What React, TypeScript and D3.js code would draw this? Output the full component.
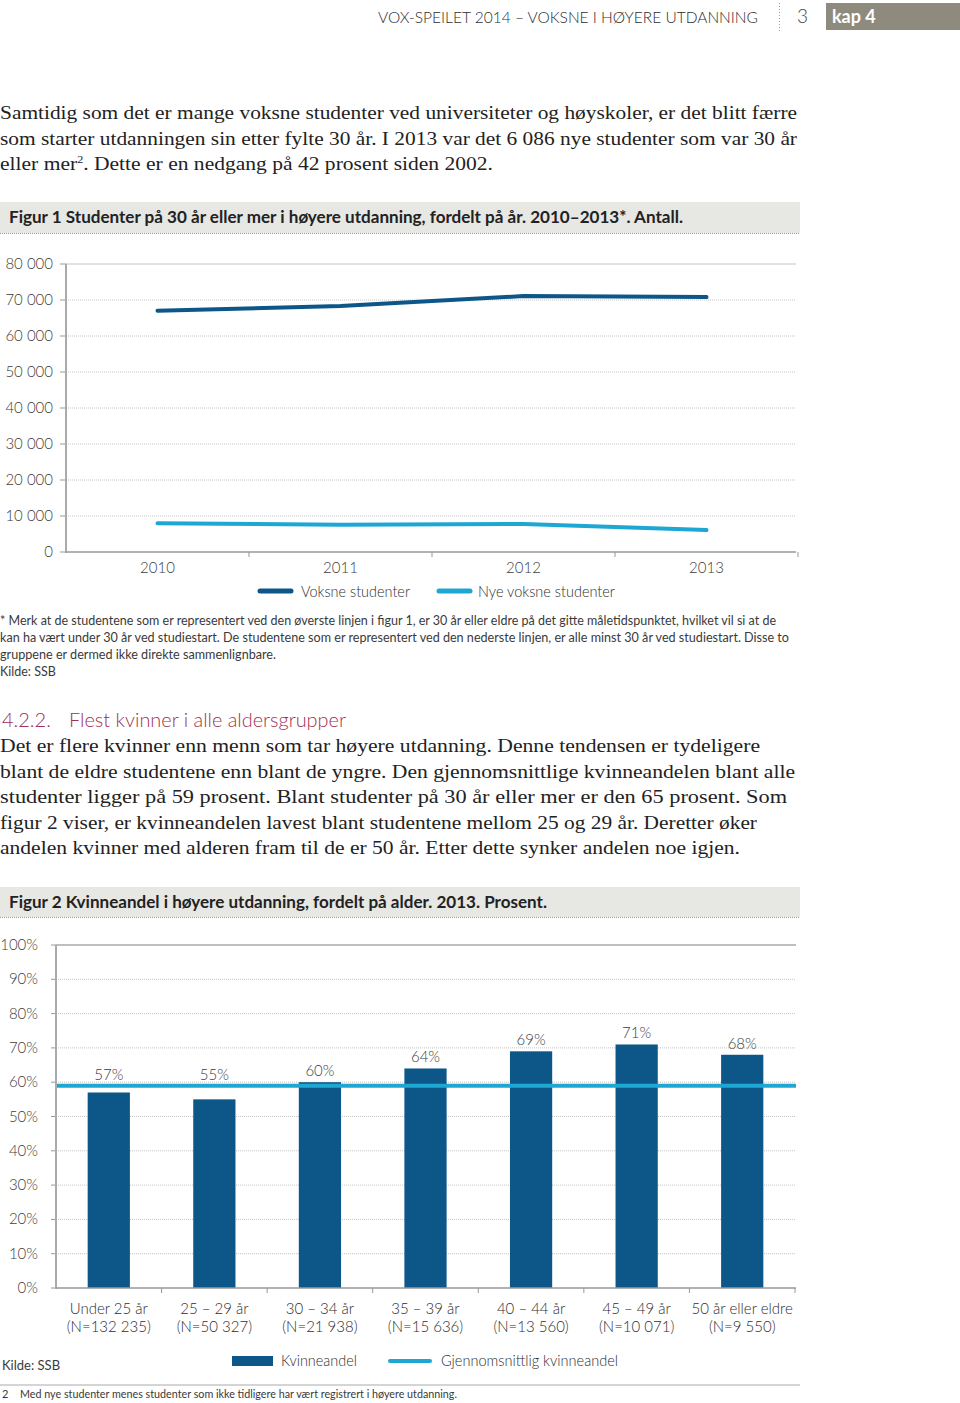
import React from "react";
import * as d3 from "d3";

const years = ["2010", "2011", "2012", "2013"];
const voksne = [67000, 68300, 71100, 70800];
const nyeVoksne = [8000, 7600, 7800, 6086];
const fig1Ticks = [0, 10000, 20000, 30000, 40000, 50000, 60000, 70000, 80000];

const ageGroups = ["Under 25 år", "25 – 29 år", "30 – 34 år", "35 – 39 år", "40 – 44 år", "45 – 49 år", "50 år eller eldre"];
const ageN = ["(N=132 235)", "(N=50 327)", "(N=21 938)", "(N=15 636)", "(N=13 560)", "(N=10 071)", "(N=9 550)"];
const kvinneandel = [0.57, 0.55, 0.6, 0.64, 0.69, 0.71, 0.68];
const avgKvinneandel = 0.59;
const fig2Ticks = [0, 0.1, 0.2, 0.3, 0.4, 0.5, 0.6, 0.7, 0.8, 0.9, 1.0];

const para1 = [
  "Samtidig som det er mange voksne studenter ved universiteter og høyskoler, er det blitt færre",
  "som starter utdanningen sin etter fylte 30 år. I 2013 var det 6 086 nye studenter som var 30 år",
];
const para2 = [
  "Det er flere kvinner enn menn som tar høyere utdanning. Denne tendensen er tydeligere",
  "blant de eldre studentene enn blant de yngre. Den gjennomsnittlige kvinneandelen blant alle",
  "studenter ligger på 59 prosent. Blant studenter på 30 år eller mer er den 65 prosent. Som",
  "figur 2 viser, er kvinneandelen lavest blant studentene mellom 25 og 29 år. Deretter øker",
  "andelen kvinner med alderen fram til de er 50 år. Etter dette synker andelen noe igjen.",
];
const para2Widths = [760, 795, 787, 757, 740];
const footnote1 = [
  "* Merk at de studentene som er representert ved den øverste linjen i figur 1, er 30 år eller eldre på det gitte måletidspunktet, hvilket vil si at de",
  "kan ha vært under 30 år ved studiestart. De studentene som er representert ved den nederste linjen, er alle minst 30 år ved studiestart. Disse to",
  "gruppene er dermed ikke direkte sammenlignbare.",
];
const footnote1Widths = [776, 789, 276];

const DARK = "#0d5788";
const LIGHT = "#1ea7d3";
const SANS = "Lato, 'Open Sans', sans-serif";
const SERIF = "'Liberation Serif', 'DejaVu Serif', serif";
const TXT = "#3a3a3a";
const LT = "#2e2e2e";

const locale = d3.formatLocale({ decimal: ",", thousands: " ", grouping: [3], currency: ["", ""] });
const fmt = locale.format(",");
const pct = d3.format(".0%");

export default function App() {
  // Figure 1
  const x1 = d3.scaleBand<string>().domain(years).range([66, 798]).padding(0);
  const y1 = d3.scaleLinear().domain([0, 80000]).range([552, 264]);
  const cx1 = (i: number) => (x1(years[i]) as number) + x1.bandwidth() / 2;
  const line1 = d3
    .line<number>()
    .x((_, i) => cx1(i))
    .y((d) => y1(d));

  // Figure 2
  const cells = d3.scaleBand<string>().domain(ageGroups).range([56, 795]).padding(0);
  const x2 = d3.scaleBand<string>().domain(ageGroups).range([56, 795]).paddingInner(0.6).paddingOuter(0.3);
  const y2 = d3.scaleLinear().domain([0, 1]).range([1288, 945]);

  return (
    <svg width={960} height={1403} style={{ position: "absolute", left: 0, top: 0, background: "#fff" }} fontFamily={SANS}>
      {/* Header */}
      <text x={378} y={23} fontSize={16.5} fill={LT} fontWeight={300} textLength={380} lengthAdjust="spacingAndGlyphs">
        VOX-SPEILET 2014 – VOKSNE I HØYERE UTDANNING
      </text>
      <line x1={779.5} x2={779.5} y1={3} y2={31} stroke="#999" strokeDasharray="1,2" />
      <text x={797} y={23} fontSize={19} fill="#444" fontWeight={300}>3</text>
      <rect x={826} y={3} width={134} height={27} fill="#8e8b7e" />
      <text x={832} y={23} fontSize={18} fontWeight="bold" fill="#fff">kap 4</text>

      {/* Paragraph 1 */}
      {para1.map((t, i) => (
        <text key={i} x={0} y={119 + i * 25.5} fontFamily={SERIF} fontSize={19.5} fill="#222" textLength={797} lengthAdjust="spacingAndGlyphs">
          {t}
        </text>
      ))}
      <text x={0} y={170} fontFamily={SERIF} fontSize={19.5} fill="#222" textLength={493} lengthAdjust="spacingAndGlyphs">
        eller mer<tspan fontSize={11} dy={-7}>2</tspan>
        <tspan dy={7}>. Dette er en nedgang på 42 prosent siden 2002.</tspan>
      </text>

      {/* Figure 1 title */}
      <rect x={0} y={202} width={800} height={31} fill="#e7e7e3" />
      <line x1={0} x2={800} y1={233.5} y2={233.5} stroke="#999" strokeDasharray="1,1" />
      <text x={9} y={223} fontSize={17} fontWeight="bold" fill="#222" textLength={674} lengthAdjust="spacingAndGlyphs">
        Figur 1 Studenter på 30 år eller mer i høyere utdanning, fordelt på år. 2010–2013*. Antall.
      </text>

      {/* Figure 1 grid and axes */}
      {fig1Ticks.map((t) => (
        <g key={t}>
          {t > 0 && (
            <line x1={66} x2={796} y1={y1(t)} y2={y1(t)} stroke="#c4c4c4" strokeWidth={1} strokeDasharray={t === 80000 ? undefined : "1,1"} />
          )}
          <line x1={60} x2={66} y1={y1(t)} y2={y1(t)} stroke="#999" />
          <text x={53} y={y1(t) + 5} textAnchor="end" fontSize={15} fill="#3c3c3c" fontWeight={300}>
            {fmt(t)}
          </text>
        </g>
      ))}
      <line x1={66} x2={66} y1={264} y2={553} stroke="#aaa" strokeWidth={2} />
      <line x1={66} x2={796} y1={552} y2={552} stroke="#999" strokeWidth={1.5} />
      {[...years.map((y) => x1(y) as number), 66 + x1.step() * years.length].map((v, i) =>
        i === 0 ? null : <line key={i} x1={v} x2={v} y1={552} y2={557} stroke="#999" />
      )}
      {years.map((yr, i) => (
        <text key={yr} x={cx1(i)} y={573} textAnchor="middle" fontSize={15} fill="#3c3c3c" fontWeight={300}>
          {yr}
        </text>
      ))}
      <path d={line1(voksne) as string} fill="none" stroke={DARK} strokeWidth={4} strokeLinecap="round" strokeLinejoin="round" />
      <path d={line1(nyeVoksne) as string} fill="none" stroke={LIGHT} strokeWidth={4} strokeLinecap="round" strokeLinejoin="round" />

      {/* Figure 1 legend */}
      <line x1={260} x2={291} y1={591} y2={591} stroke={DARK} strokeWidth={5} strokeLinecap="round" />
      <text x={301} y={597} fontSize={15} fill={LT} fontWeight={300} textLength={109} lengthAdjust="spacingAndGlyphs">Voksne studenter</text>
      <line x1={439} x2={470} y1={591} y2={591} stroke={LIGHT} strokeWidth={5} strokeLinecap="round" />
      <text x={478} y={597} fontSize={15} fill={LT} fontWeight={300} textLength={137} lengthAdjust="spacingAndGlyphs">Nye voksne studenter</text>

      {/* Figure 1 footnote */}
      {footnote1.map((t, i) => (
        <text key={i} x={0} y={625 + i * 17} fontSize={12.5} fill={TXT} textLength={footnote1Widths[i]} lengthAdjust="spacingAndGlyphs">
          {t}
        </text>
      ))}
      <text x={0} y={676} fontSize={12.5} fill={TXT}>Kilde: SSB</text>

      {/* Heading */}
      <text x={2} y={727} fontSize={20} fill="#a3304f" fontWeight={300}>4.2.2.</text>
      <text x={69} y={727} fontSize={20} fill="#a3304f" fontWeight={300} textLength={277} lengthAdjust="spacingAndGlyphs">
        Flest kvinner i alle aldersgrupper
      </text>

      {/* Paragraph 2 */}
      {para2.map((t, i) => (
        <text key={i} x={0} y={752 + i * 25.5} fontFamily={SERIF} fontSize={19.5} fill="#222" textLength={para2Widths[i]} lengthAdjust="spacingAndGlyphs">
          {t}
        </text>
      ))}

      {/* Figure 2 title */}
      <rect x={0} y={887} width={800} height={30} fill="#e7e7e3" />
      <line x1={0} x2={800} y1={917.5} y2={917.5} stroke="#999" strokeDasharray="1,1" />
      <text x={9} y={908} fontSize={17} fontWeight="bold" fill="#222" textLength={538} lengthAdjust="spacingAndGlyphs">
        Figur 2 Kvinneandel i høyere utdanning, fordelt på alder. 2013. Prosent.
      </text>

      {/* Figure 2 grid and axes */}
      {fig2Ticks.map((t) => (
        <g key={t}>
          {t > 0 && (
            <line x1={56} x2={796} y1={y2(t)} y2={y2(t)} stroke={t === 1 ? "#aaa" : "#c4c4c4"} strokeWidth={t === 1 ? 1.5 : 1} strokeDasharray={t === 1 ? undefined : "1,1"} />
          )}
          <line x1={51} x2={56} y1={y2(t)} y2={y2(t)} stroke="#999" />
          <text x={38} y={y2(t) + 5} textAnchor="end" fontSize={15} fill="#3c3c3c" fontWeight={300}>
            {pct(t)}
          </text>
        </g>
      ))}
      {ageGroups.map((g, i) => {
        const bx = x2(g) as number;
        const top = y2(kvinneandel[i]);
        const labelY = Math.min(top, y2(avgKvinneandel)) - 6;
        return (
          <g key={g}>
            <rect x={bx} y={top} width={x2.bandwidth()} height={y2(0) - top} fill={DARK} />
            <text x={bx + x2.bandwidth() / 2} y={labelY} textAnchor="middle" fontSize={15} fill="#3c3c3c" fontWeight={300}>
              {pct(kvinneandel[i])}
            </text>
          </g>
        );
      })}
      <line x1={56} x2={796} y1={y2(avgKvinneandel)} y2={y2(avgKvinneandel)} stroke={LIGHT} strokeWidth={4} />
      <line x1={56} x2={56} y1={945} y2={1289} stroke="#aaa" strokeWidth={2} />
      <line x1={56} x2={796} y1={1288} y2={1288} stroke="#999" strokeWidth={1.5} />
      {ageGroups.map((g, i) => {
        const cx = (cells(g) as number) + cells.bandwidth();
        return <line key={i} x1={cx} x2={cx} y1={1288} y2={1293} stroke="#999" />;
      })}
      {ageGroups.map((g, i) => {
        const cx = (cells(g) as number) + cells.bandwidth() / 2;
        return (
          <g key={g}>
            <text x={cx} y={1314} textAnchor="middle" fontSize={15} fill={LT} fontWeight={300}>{g}</text>
            <text x={cx} y={1332} textAnchor="middle" fontSize={15} fill={LT} fontWeight={300}>{ageN[i]}</text>
          </g>
        );
      })}

      {/* Figure 2 legend */}
      <text x={2} y={1370} fontSize={13} fill={TXT}>Kilde: SSB</text>
      <rect x={232} y={1356} width={41} height={10} fill={DARK} />
      <text x={281} y={1366} fontSize={15} fill={LT} fontWeight={300} textLength={76} lengthAdjust="spacingAndGlyphs">Kvinneandel</text>
      <line x1={390} x2={430} y1={1361} y2={1361} stroke={LIGHT} strokeWidth={4} strokeLinecap="round" />
      <text x={441} y={1366} fontSize={15} fill={LT} fontWeight={300} textLength={177} lengthAdjust="spacingAndGlyphs">Gjennomsnittlig kvinneandel</text>

      {/* Footer */}
      <line x1={0} x2={800} y1={1385} y2={1385} stroke="#aaa" />
      <text x={2} y={1398} fontSize={11} fill={TXT}>2</text>
      <text x={20} y={1398} fontSize={11} fill={TXT} textLength={437} lengthAdjust="spacingAndGlyphs">
        Med nye studenter menes studenter som ikke tidligere har vært registrert i høyere utdanning.
      </text>
    </svg>
  );
}
